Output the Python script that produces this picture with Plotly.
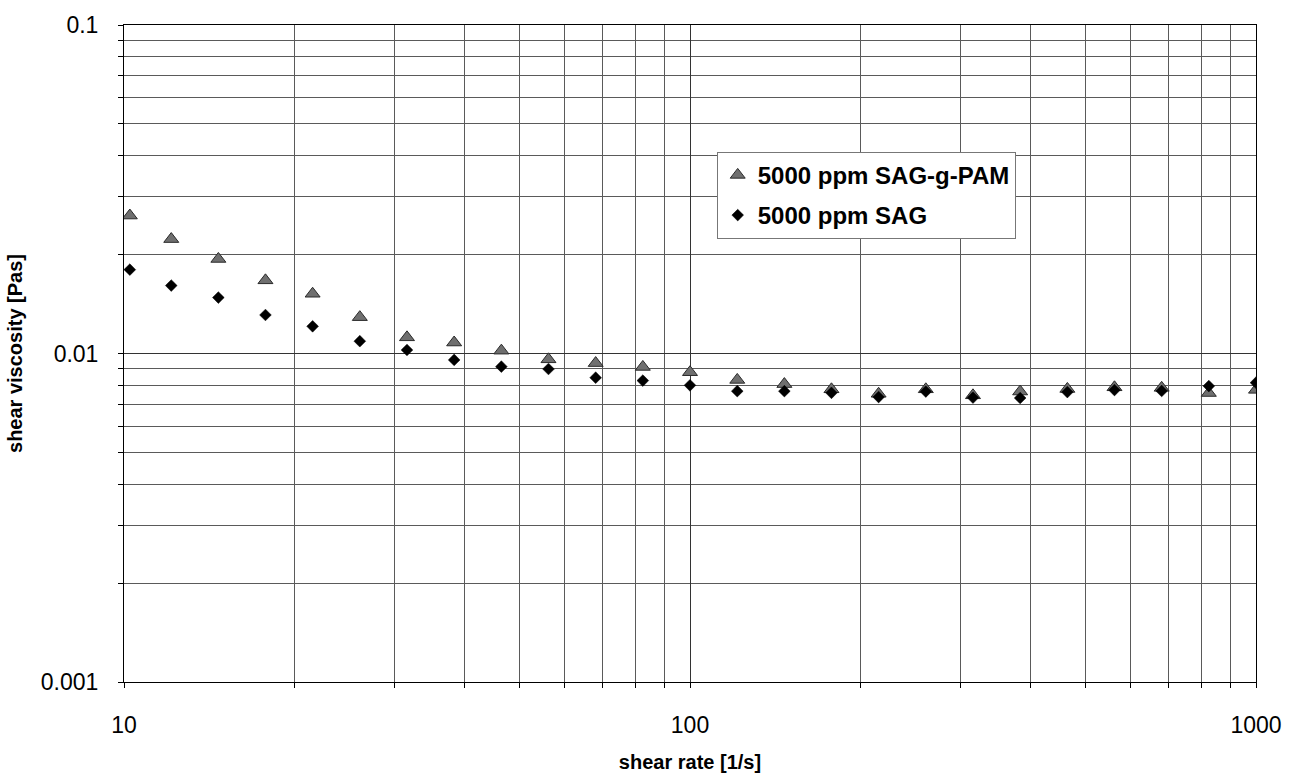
import plotly.graph_objects as go

# ---- data ----
shear_rate = [10.24, 12.12, 14.68, 17.78, 21.54, 26.10, 31.62, 38.31, 46.42, 56.23,
              68.13, 82.54, 100.0, 121.2, 146.8, 177.8, 215.4, 261.0, 316.2, 383.1,
              464.2, 562.3, 681.3, 825.4, 1000.0]
visc_sag_g_pam = [0.0263, 0.0223, 0.0194, 0.0167, 0.0152, 0.0129, 0.0112, 0.0108, 0.0102, 0.0096,
                  0.00935, 0.0091, 0.00877, 0.00831, 0.00807, 0.00778, 0.00754, 0.00778, 0.00746, 0.00766,
                  0.00780, 0.00789, 0.00786, 0.00758, 0.00775]
visc_sag = [0.0180, 0.0161, 0.0148, 0.0131, 0.0121, 0.0109, 0.01025, 0.00956, 0.00912, 0.00897,
            0.00844, 0.00827, 0.00800, 0.00768, 0.00768, 0.00759, 0.00737, 0.00766, 0.00734, 0.00732,
            0.00763, 0.00774, 0.00769, 0.00796, 0.00815]

series_names = ["5000 ppm SAG-g-PAM", "5000 ppm SAG"]

x_major = [10, 100, 1000]
x_major_text = ["10", "100", "1000"]
x_minor = [20, 30, 40, 50, 60, 70, 80, 90, 200, 300, 400, 500, 600, 700, 800, 900]
y_major = [0.001, 0.01, 0.1]
y_major_text = ["0.001", "0.01", "0.1"]
y_minor = [0.002, 0.003, 0.004, 0.005, 0.006, 0.007, 0.008, 0.009,
           0.02, 0.03, 0.04, 0.05, 0.06, 0.07, 0.08, 0.09]

FONT = "Liberation Sans, Arial, sans-serif"

fig = go.Figure()
fig.add_trace(go.Scatter(
    x=shear_rate, y=visc_sag_g_pam, mode="markers", name=series_names[0],
    legendgroup="g1",
    marker=dict(symbol="triangle-up", size=13, color="#6f6f6f",
                line=dict(color="#2a2a2a", width=1)),
))
fig.add_trace(go.Scatter(
    x=shear_rate, y=visc_sag, mode="markers", name=series_names[1],
    legendgroup="g2",
    marker=dict(symbol="diamond", size=9, color="#000000",
                line=dict(color="#000000", width=0.5)),
))

axis_common = dict(
    showline=True, linecolor="#000000", linewidth=1, mirror=True,
    ticks="outside", ticklen=5, tickcolor="#000000",
    showgrid=True, gridcolor="#333333", gridwidth=1,
    zeroline=False,
    tickfont=dict(family=FONT, size=23, color="#000000"),
)

fig.update_xaxes(
    type="log", range=[1, 3],
    tickmode="array", tickvals=x_major, ticktext=x_major_text,
    ticklabelstandoff=17,
    minor=dict(tickmode="array", tickvals=x_minor, showgrid=True,
               gridcolor="#5a5a5a", gridwidth=1, ticks="outside", ticklen=5,
               tickcolor="#000000"),
    title=dict(text="shear rate [1/s]", standoff=18,
               font=dict(family=FONT, size=20, color="#000000", weight="bold")),
    **axis_common,
)
fig.update_yaxes(
    type="log", range=[-3, -1],
    tickmode="array", tickvals=y_major, ticktext=y_major_text,
    ticklabelstandoff=15,
    minor=dict(tickmode="array", tickvals=y_minor, showgrid=True,
               gridcolor="#5a5a5a", gridwidth=1, ticks="outside", ticklen=5,
               tickcolor="#000000"),
    title=dict(text="shear viscosity [Pas]", standoff=12,
               font=dict(family=FONT, size=20, color="#000000", weight="bold")),
    **axis_common,
)

fig.update_layout(
    width=1294, height=782,
    margin=dict(l=124, r=28, t=20, b=83),
    paper_bgcolor="#ffffff", plot_bgcolor="#ffffff",
    showlegend=True,
    legend=dict(
        x=0.5236, y=0.807, xanchor="left", yanchor="top",
        bgcolor="#ffffff", bordercolor="#777777", borderwidth=1,
        font=dict(family=FONT, size=24, color="#000000", weight="bold"),
        tracegroupgap=6,
    ),
)

fig.write_html("out.html")
